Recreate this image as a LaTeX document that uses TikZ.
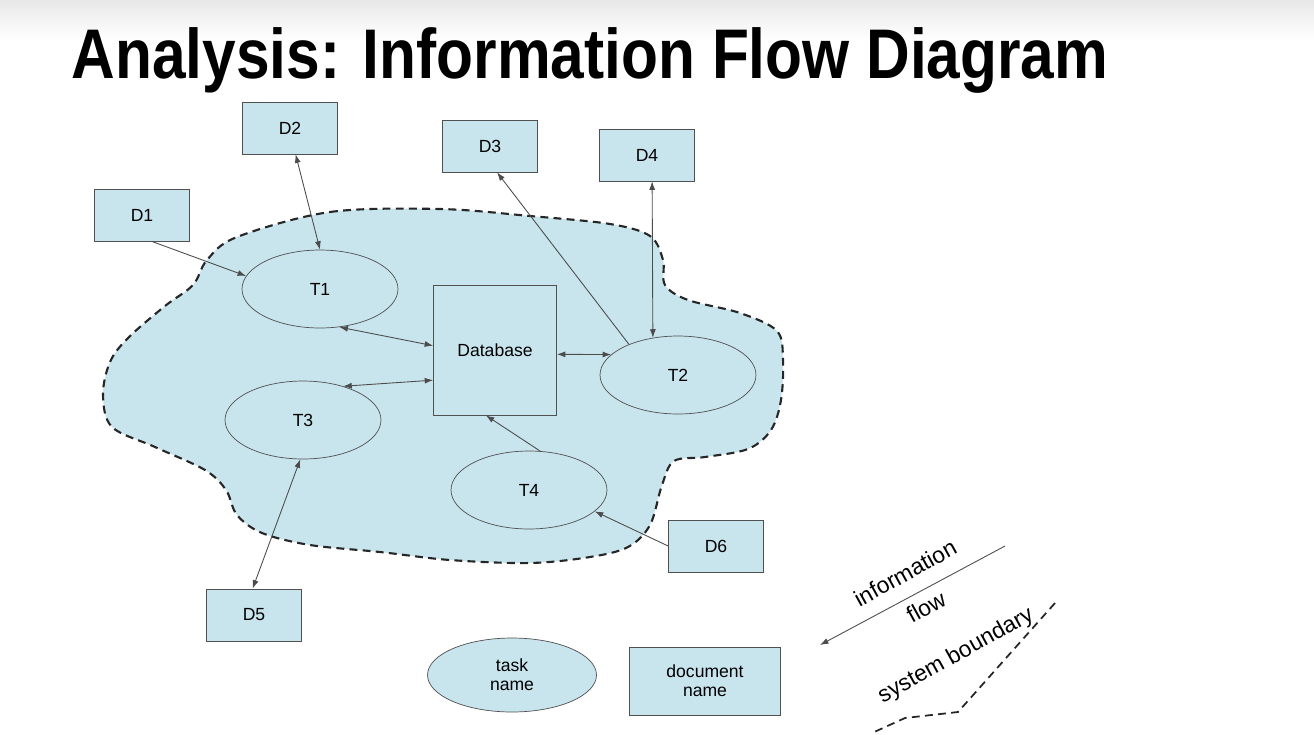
\documentclass[tikz,border=0pt]{standalone}
\usepackage{graphicx}
\usepackage{fontspec}
\setmainfont{Liberation Sans}
\usetikzlibrary{arrows.meta,shapes.geometric}
\definecolor{docblue}{RGB}{200,229,238}
\definecolor{edgegray}{RGB}{80,80,80}

\begin{document}
\begin{tikzpicture}[
  x=0.02cm, y=-0.02cm,
  >={Latex[length=1.7mm,width=1.2mm]},
  every node/.style={font=\fontsize{10}{11}\selectfont},
  doc/.style={draw=edgegray,fill=docblue,minimum width=1.9cm,minimum height=1.04cm,inner sep=1pt},
  task/.style={ellipse,draw=edgegray,fill=docblue,minimum width=3.12cm,minimum height=1.56cm,inner sep=1pt},
  flow/.style={draw=black!70,line width=0.5pt},
  boundary/.style={draw=black!85,line width=1.2pt,dash pattern=on 4.5pt off 3pt},
  legend/.style={font=\fontsize{13}{14}\selectfont,rotate=29}
]
  \useasboundingbox (0,0) rectangle (1314,734);
  \shade[top color=black!9,bottom color=white] (0,0) rectangle (1314,40);
  \node[anchor=base,font=\fontsize{40}{44}\selectfont\bfseries] (title) at (590,78)
    {\scalebox{0.86}[1]{Analysis: Information Flow Diagram}};

  \draw[boundary,fill=docblue] plot[smooth cycle,tension=0.55] coordinates {
    (237,237) (330,212) (440,209) (530,216) (610,224) (650,236) (663,260) (665,285)
    (688,300) (740,313) (777,331) (783,360) (781,400) (771,430) (748,449) (705,457)
    (674,461) (662,485) (650,525) (628,547) (590,557) (530,563) (450,560) (380,552)
    (310,545) (262,533) (237,515) (226,490) (205,470) (155,447) (112,427) (103,395)
    (110,362) (128,338) (165,306) (193,285) (207,260)};

  \node[doc] (d1) at (142,215) {D1};
  \node[doc] (d2) at (290,128) {D2};
  \node[doc] (d3) at (490,146) {D3};
  \node[doc] (d4) at (647,155) {D4};
  \node[doc] (d5) at (254,615) {D5};
  \node[doc] (d6) at (716,546) {D6};
  \node[draw=edgegray,fill=docblue,minimum width=2.46cm,minimum height=2.6cm] (db) at (495,350) {Database};
  \node[task] (t1) at (320,289) {T1};
  \node[task] (t2) at (678,375) {T2};
  \node[task] (t3) at (303,420) {T3};
  \node[task] (t4) at (529,490) {T4};

  \draw[flow,->] (d1.-70) -- (t1.170);
  \draw[flow,<->] (d2.-78) -- (t1.north);
  \draw[flow,<->] (t1.-63) -- (db.176);
  \draw[flow,<->] (t3.40) -- (db.206);
  \draw[flow,<->] (db.-4) -- (t2.163);
  \draw[flow,->] (t2.148) -- (d3.-75);
  \draw[flow,<->] (d4.-79) -- (t2.124);
  \draw[flow,->] (t4.74) -- (db.-98);
  \draw[flow,->] (d6.west) -- (t4.-18);
  \draw[flow,<->] (t3.-94) -- (d5.93);

  \node[task,minimum width=3.38cm,minimum height=1.48cm,align=center] (taskkey) at (512,675) {task\\name};
  \node[doc,minimum width=3.02cm,minimum height=1.36cm,align=center] (dockey) at (705,681) {document\\name};

  \coordinate (flowa) at (1005,546);
  \coordinate (flowb) at (820,645);
  \draw[flow,->] (flowa) -- (flowb);
  \node[legend] (flowtop) at (905,573) {information};
  \node[legend] (flowbot) at (926,607) {flow};
  \node[legend] (sysb) at (956,656) {system boundary};
  \coordinate (sba) at (1055,603);
  \coordinate (sbb) at (958,712);
  \coordinate (sbc) at (905,718);
  \coordinate (sbd) at (872,733);
  \draw[boundary,line width=1pt] (sba) -- (sbb) -- (sbc) -- (sbd);
\end{tikzpicture}
\end{document}
